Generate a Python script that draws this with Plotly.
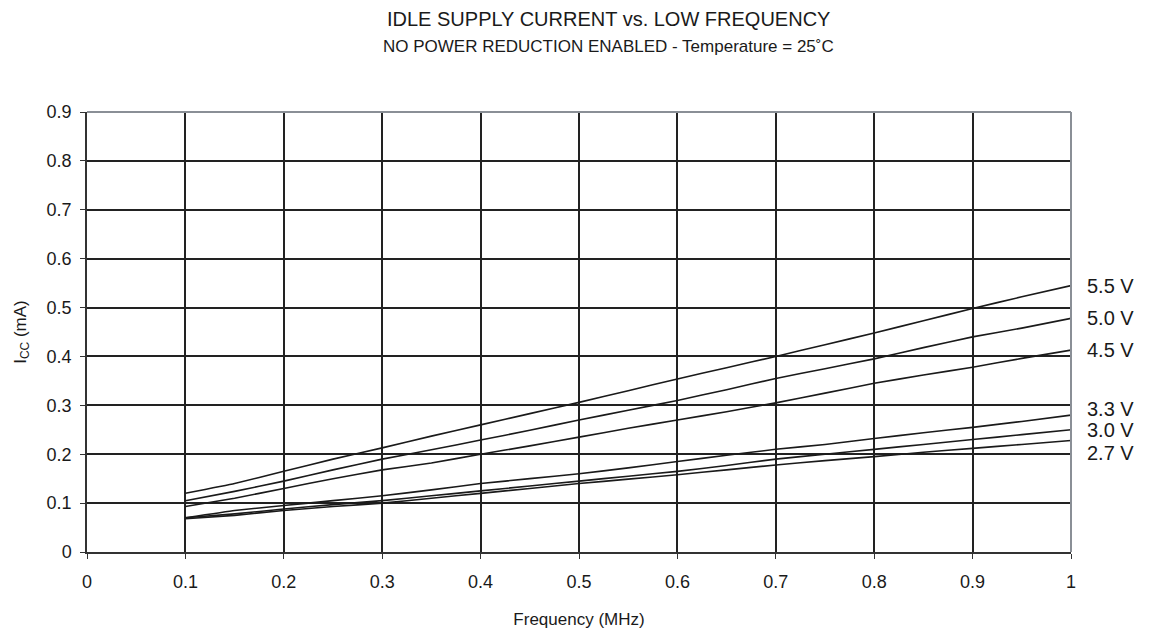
import plotly.graph_objects as go

freq = [0.1, 0.15, 0.2, 0.25, 0.3, 0.35, 0.4, 0.45, 0.5, 0.55, 0.6, 0.65, 0.7, 0.75, 0.8, 0.85, 0.9, 0.95, 1.0]

i_55 = [0.120, 0.140, 0.165, 0.190, 0.213, 0.237, 0.260, 0.283, 0.306, 0.330, 0.354, 0.377, 0.400, 0.424, 0.448, 0.473, 0.498, 0.522, 0.545]
i_50 = [0.105, 0.124, 0.145, 0.168, 0.190, 0.209, 0.229, 0.249, 0.270, 0.290, 0.310, 0.332, 0.355, 0.375, 0.395, 0.418, 0.440, 0.458, 0.478]
i_45 = [0.093, 0.110, 0.130, 0.150, 0.168, 0.182, 0.200, 0.217, 0.235, 0.253, 0.270, 0.287, 0.305, 0.325, 0.345, 0.362, 0.378, 0.396, 0.413]
i_33 = [0.070, 0.085, 0.095, 0.105, 0.115, 0.127, 0.140, 0.150, 0.160, 0.172, 0.185, 0.198, 0.210, 0.220, 0.232, 0.244, 0.255, 0.267, 0.280]
i_30 = [0.070, 0.078, 0.088, 0.097, 0.105, 0.115, 0.125, 0.135, 0.145, 0.155, 0.165, 0.177, 0.190, 0.200, 0.210, 0.220, 0.230, 0.240, 0.250]
i_27 = [0.068, 0.075, 0.085, 0.093, 0.100, 0.110, 0.120, 0.130, 0.140, 0.149, 0.158, 0.168, 0.178, 0.187, 0.195, 0.204, 0.212, 0.220, 0.228]

series = [
    ("5.5 V", i_55, 0),
    ("5.0 V", i_50, 0),
    ("4.5 V", i_45, 0),
    ("3.3 V", i_33, 6),
    ("3.0 V", i_30, 0),
    ("2.7 V", i_27, -12),
]

x_ticks = [0, 0.1, 0.2, 0.3, 0.4, 0.5, 0.6, 0.7, 0.8, 0.9, 1]
y_ticks = [0, 0.1, 0.2, 0.3, 0.4, 0.5, 0.6, 0.7, 0.8, 0.9]

ink = "#1a1a1a"

fig = go.Figure()
for name, vals, shift in series:
    fig.add_trace(go.Scatter(x=freq, y=vals, mode="lines", name=name,
                             line=dict(color=ink, width=1.6, shape="spline", smoothing=0.3)))
    fig.add_annotation(x=1, y=vals[-1], text=name, xref="x", yref="y", showarrow=False,
                       xanchor="left", xshift=14, yshift=shift,
                       font=dict(size=20, color=ink))

# titles
fig.add_annotation(text="IDLE SUPPLY CURRENT vs. LOW FREQUENCY", xref="paper", yref="paper",
                   x=0.53, y=1.24, showarrow=False, font=dict(size=20, color=ink))
fig.add_annotation(text="NO POWER REDUCTION ENABLED - Temperature = 25˚C", xref="paper", yref="paper",
                   x=0.53, y=1.175, showarrow=False, font=dict(size=17, color=ink))

# grey frame on top and right
fig.add_shape(type="line", xref="paper", yref="paper", x0=0, x1=1, y0=1, y1=1,
              line=dict(color="#8a8f96", width=2), layer="above")
fig.add_shape(type="line", xref="paper", yref="paper", x0=1, x1=1, y0=0, y1=1,
              line=dict(color="#8a8f96", width=2), layer="above")

fig.update_layout(
    width=1168,
    height=638,
    paper_bgcolor="white",
    plot_bgcolor="white",
    showlegend=False,
    margin=dict(l=79, r=105, t=104, b=94),
    font=dict(family="Liberation Sans, Arial, sans-serif", color=ink),
    xaxis=dict(
        range=[0, 1], tickvals=x_ticks, ticks="outside", ticklen=5, tickcolor="#333",
        ticklabelstandoff=8,
        showgrid=True, gridcolor="#222", gridwidth=1.6,
        showline=True, linecolor="#333", linewidth=1.5, zeroline=False,
        tickfont=dict(size=18), title=dict(text="Frequency (MHz)", font=dict(size=17), standoff=22),
    ),
    yaxis=dict(
        range=[0, 0.9], tickvals=y_ticks, ticks="outside", ticklen=5, tickcolor="#333",
        ticklabelstandoff=5,
        showgrid=True, gridcolor="#222", gridwidth=1.6,
        showline=True, linecolor="#333", linewidth=1.5, zeroline=False,
        tickfont=dict(size=18), title=dict(text="I<sub>CC</sub> (mA)", font=dict(size=17), standoff=16),
    ),
)

fig.write_html("out.html")
